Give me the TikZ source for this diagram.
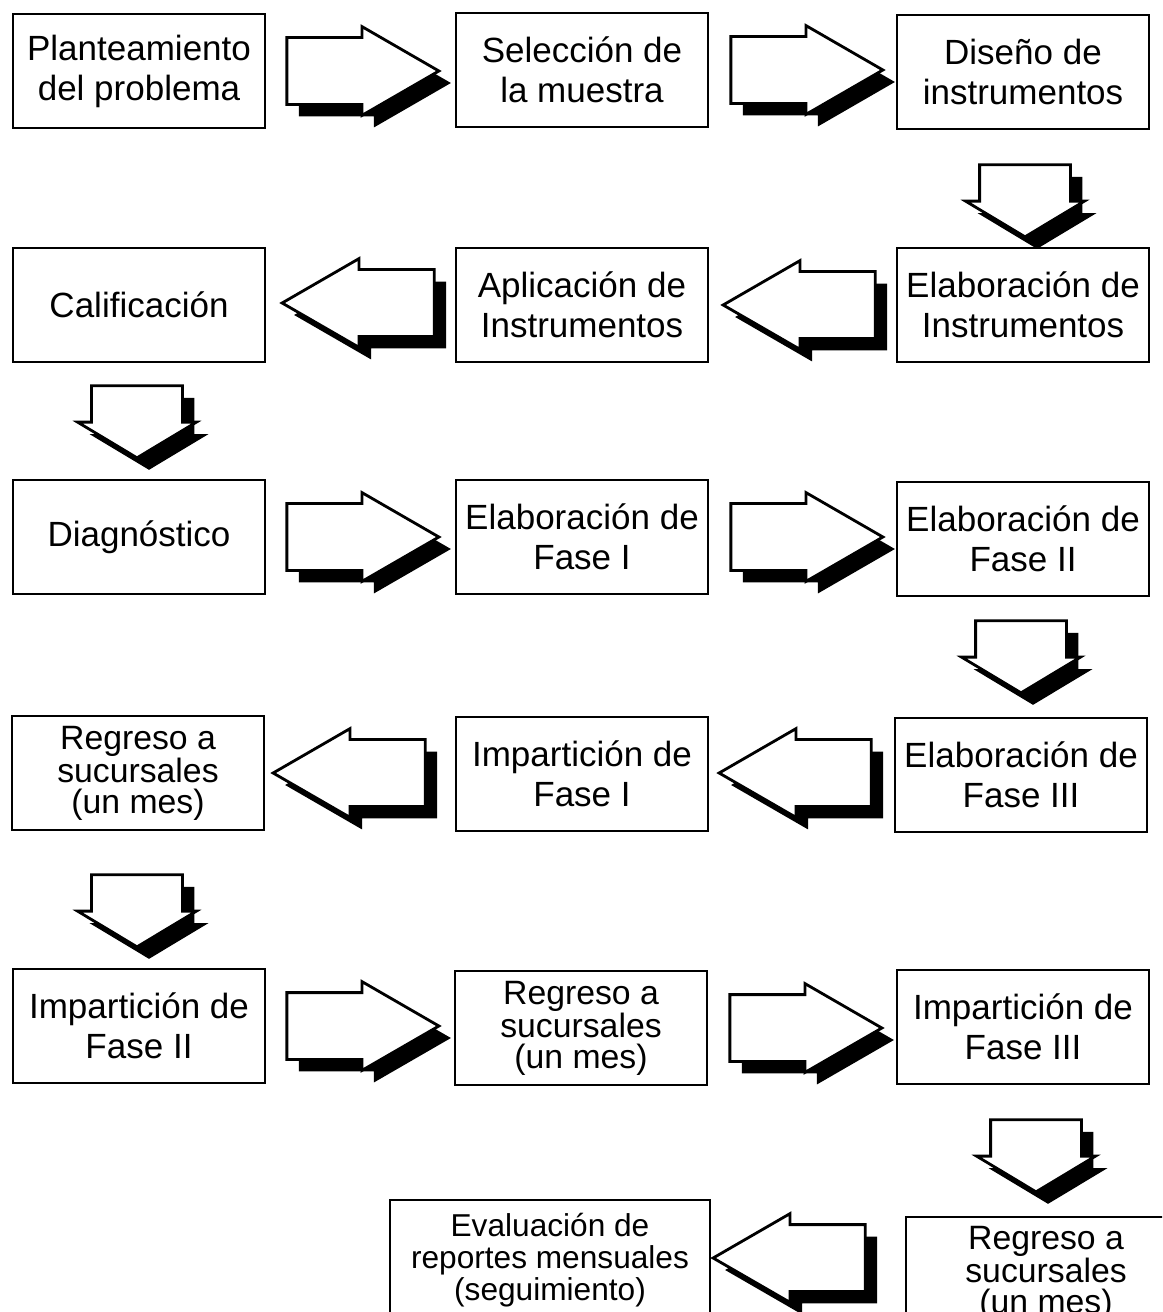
\documentclass[tikz,border=0pt]{standalone}
\usepackage{fontspec}
\setmainfont{Liberation Sans}
\usetikzlibrary{positioning,calc,shapes.arrows,shadows}

\begin{document}
\begin{tikzpicture}[x=0.025cm,y=-0.025cm]
    \tikzstyle{caja}=[draw, line width=2pt, rectangle, inner sep=0pt,
    minimum width=6.3cm, minimum height=2.85cm, align=center,
    font=\fontsize{24.9}{28.5}\selectfont]
    \tikzstyle{regreso}=[font=\fontsize{24}{22}\selectfont]
    \tikzstyle{flecha}=[single arrow, draw, fill=white, line width=2pt,
    anchor=tail,
    drop shadow={shadow xshift=0.3cm, shadow yshift=-0.3cm,
    fill=black, opacity=1}]
    \tikzstyle{der}=[flecha, inner xsep=0pt, inner ysep=0.8cm,
    minimum height=3.8cm, minimum width=0pt,
    single arrow head extend=0.275cm, single arrow tip angle=60]
    \tikzstyle{izq}=[der, shape border rotate=180]
    \tikzstyle{abajo}=[flecha, inner xsep=1.1cm, inner ysep=0pt,
    minimum height=1.8cm, minimum width=0pt,
    single arrow head extend=0.35cm, single arrow tip angle=118,
    shape border rotate=270]

    \useasboundingbox (0,0) rectangle (1162,1312);
    \clip (0,0) rectangle (1162,1312);

    % fila 1
    \node[caja] (plan) at (139,71) {Planteamiento\\del problema};
    \node[caja] (selec) at (582,70) {Selección de\\la muestra};
    \node[caja] (dise) at (1023,72) {Diseño de\\instrumentos};
    \node[der] (f1) at ($(plan.east)+(19,0)$) {};
    \node[der] (f2) at ($(selec.east)+(20,0)$) {};
    \node[abajo] (b1) at ($(dise.south)+(2,33)$) {};

    % fila 2
    \node[caja] (calif) at (139,305) {Calificación};
    \node[caja] (aplic) at (582,305) {Aplicación de\\Instrumentos};
    \node[caja] (elabins) at (1023,305) {Elaboración de\\Instrumentos};
    \node[izq] (f3) at ($(elabins.west)+(-19,0)$) {};
    \node[izq] (f4) at ($(aplic.west)+(-19,-2)$) {};
    \node[abajo] (b2) at ($(calif.south)+(-2,21)$) {};

    % fila 3
    \node[caja] (diag) at (139,537) {Diagnóstico};
    \node[caja] (elabI) at (582,537) {Elaboración de\\Fase I};
    \node[caja] (elabII) at (1023,539) {Elaboración de\\Fase II};
    \node[der] (f5) at ($(diag.east)+(19,0)$) {};
    \node[der] (f6) at ($(elabI.east)+(20,0)$) {};
    \node[abajo] (b3) at ($(elabII.south)+(-2,22)$) {};

    % fila 4
    \node[caja, regreso] (regI) at (138,773) {Regreso a\\sucursales\\(un mes)};
    \node[caja] (impI) at (582,774) {Impartición de\\Fase I};
    \node[caja] (elabIII) at (1021,775) {Elaboración de\\Fase III};
    \node[izq] (f7) at ($(elabIII.west)+(-21,-2)$) {};
    \node[izq] (f8) at ($(impI.west)+(-28,-1)$) {};
    \node[abajo] (b4) at ($(regI.south)+(-1,42)$) {};

    % fila 5
    \node[caja] (impII) at (139,1026) {Impartición de\\Fase II};
    \node[caja, regreso] (regII) at (581,1028) {Regreso a\\sucursales\\(un mes)};
    \node[caja] (impIII) at (1023,1027) {Impartición de\\Fase III};
    \node[der] (f9) at ($(impII.east)+(19,0)$) {};
    \node[der] (f10) at ($(regII.east)+(20,0)$) {};
    \node[abajo] (b5) at ($(impIII.south)+(13,33)$) {};

    % fila 6
    \node[caja, minimum width=8cm, minimum height=3cm,
    font=\fontsize{22.5}{22.8}\selectfont] (eval) at (550,1260)
    {Evaluación de\\reportes mensuales\\(seguimiento)};
    \node[caja, regreso, minimum width=7cm, minimum height=2.8cm]
    (regIII) at (1046,1273) {Regreso a\\sucursales\\(un mes)};
    \node[izq] (f11) at ($(regIII.west)+(-38,-15)$) {};
\end{tikzpicture}
\end{document}
